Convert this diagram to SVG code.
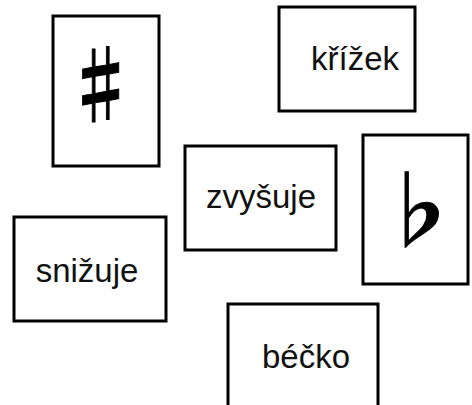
<svg xmlns="http://www.w3.org/2000/svg" width="472" height="405" viewBox="0 0 472 405">
<style>
.box{fill:#fff;stroke:#000;stroke-width:3}
.lbl{font-family:"Liberation Sans",Arial,sans-serif;font-size:33px;fill:#111;text-anchor:middle}
.sym{font-family:"Noto Sans CJK JP","DejaVu Sans",sans-serif;font-weight:bold;fill:#000;stroke:#000;stroke-width:1;text-anchor:middle}
</style>
<rect width="472" height="405" fill="#fff"/>
<g id="connectors"></g>
<g id="sharp"><rect class="box" x="53" y="16" width="106" height="150"/><text class="sym" transform="translate(101 116) scale(0.85 1)" font-size="84">♯</text></g>
<g id="krizek"><rect class="box" x="279" y="7" width="136" height="104"/><text class="lbl" x="355" y="70">křížek</text></g>
<g id="zvysuje"><rect class="box" x="185" y="146" width="151" height="104"/><text class="lbl" x="261" y="208">zvyšuje</text></g>
<g id="flat"><rect class="box" x="363" y="135" width="105" height="149"/><text class="sym" x="418" y="241" font-size="83">♭</text></g>
<g id="snizuje"><rect class="box" x="14" y="217" width="152" height="104"/><text class="lbl" x="87" y="282">snižuje</text></g>
<g id="becko"><rect class="box" x="228" y="304" width="150" height="110"/><text class="lbl" x="306" y="368">béčko</text></g>
</svg>
